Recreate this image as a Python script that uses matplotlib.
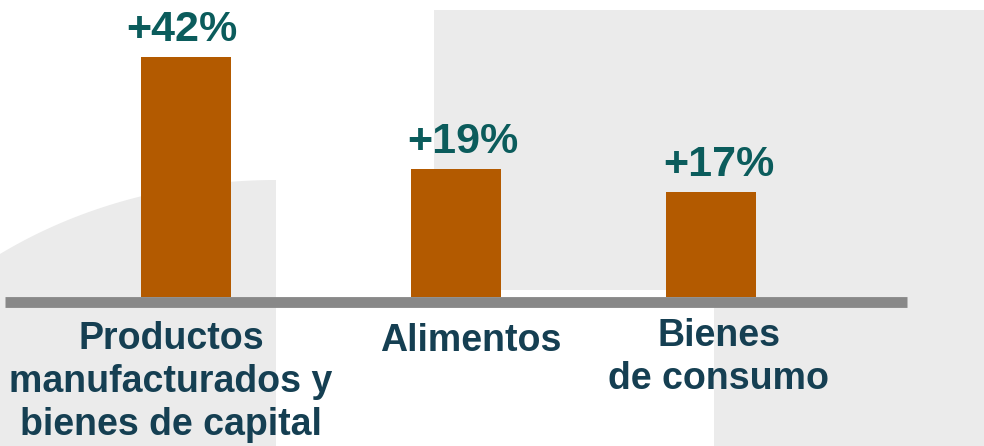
import matplotlib
matplotlib.use("Agg")
import matplotlib.pyplot as plt
from matplotlib.patches import Rectangle, Polygon
import numpy as np

# data
categories = ["Productos\nmanufacturados y\nbienes de capital", "Alimentos", "Bienes\nde consumo"]
bar_heights = [42.0, 22.4, 18.4]
growth_labels = ["+42%", "+19%", "+17%"]

# styling / positions (pixel layout)
bar_x = [186, 456, 711]
bar_w = 90
label_x = [171, 471, 719]
label_top = [321, 323, 318]
pct_x = [182, 463, 719]
BAR_COLOR = "#b35a00"
PCT_COLOR = "#0b5c5c"
CAT_COLOR = "#153f52"
BG_GRAY = "#ebebeb"
AXIS_GRAY = "#888888"
FONT = "Liberation Sans"

W, H = 984, 446
fig = plt.figure(figsize=(W / 100, H / 100), dpi=100)

# background decorative shapes
bg = fig.add_axes([0, 0, 1, 1])
bg.set_xlim(0, W)
bg.set_ylim(H, 0)
bg.axis("off")
bg.add_patch(Rectangle((434, 10), W - 434, 280, color=BG_GRAY, lw=0))
bg.add_patch(Rectangle((714, 290), W - 714, H - 290, color=BG_GRAY, lw=0))
xs = np.linspace(0, 276, 200)
a, b, xc, yc = 460.0, 370.0, 276.0, 550.0
ys = yc - b * np.sqrt(1 - ((xs - xc) / a) ** 2)
pts = np.column_stack([np.r_[xs, 276, 0], np.r_[ys, H, H]])
bg.add_patch(Polygon(pts, closed=True, color=BG_GRAY, lw=0))

# main axes: x in pixels, y in value units
ax = fig.add_axes([0, 0, 1, 1], facecolor="none")
ax.set_xlim(0, W)
base_px = 297.0
scale = 240.0 / 42.0
ax.set_ylim(-(H - base_px) / scale, base_px / scale)
ax.axis("off")

ax.bar(bar_x, bar_heights, width=bar_w, color=BAR_COLOR, zorder=2)
ax.axhline(-0.9, xmin=5 / W, xmax=907 / W, color=AXIS_GRAY, lw=7.8, zorder=3,
           solid_capstyle="butt")

for x, h, t in zip(pct_x, bar_heights, growth_labels):
    ax.annotate(t, xy=(x, h), xytext=(0, 7), textcoords="offset pixels",
                ha="center", va="bottom", fontsize=31, fontweight="bold",
                color=PCT_COLOR, family=FONT)

for x, top, c in zip(label_x, label_top, categories):
    fig.text(x / W, 1 - top / H, c, ha="center", va="top", fontsize=27,
             fontweight="bold", color=CAT_COLOR, family=FONT, linespacing=1.25)

fig.savefig("out.png", dpi=100)
